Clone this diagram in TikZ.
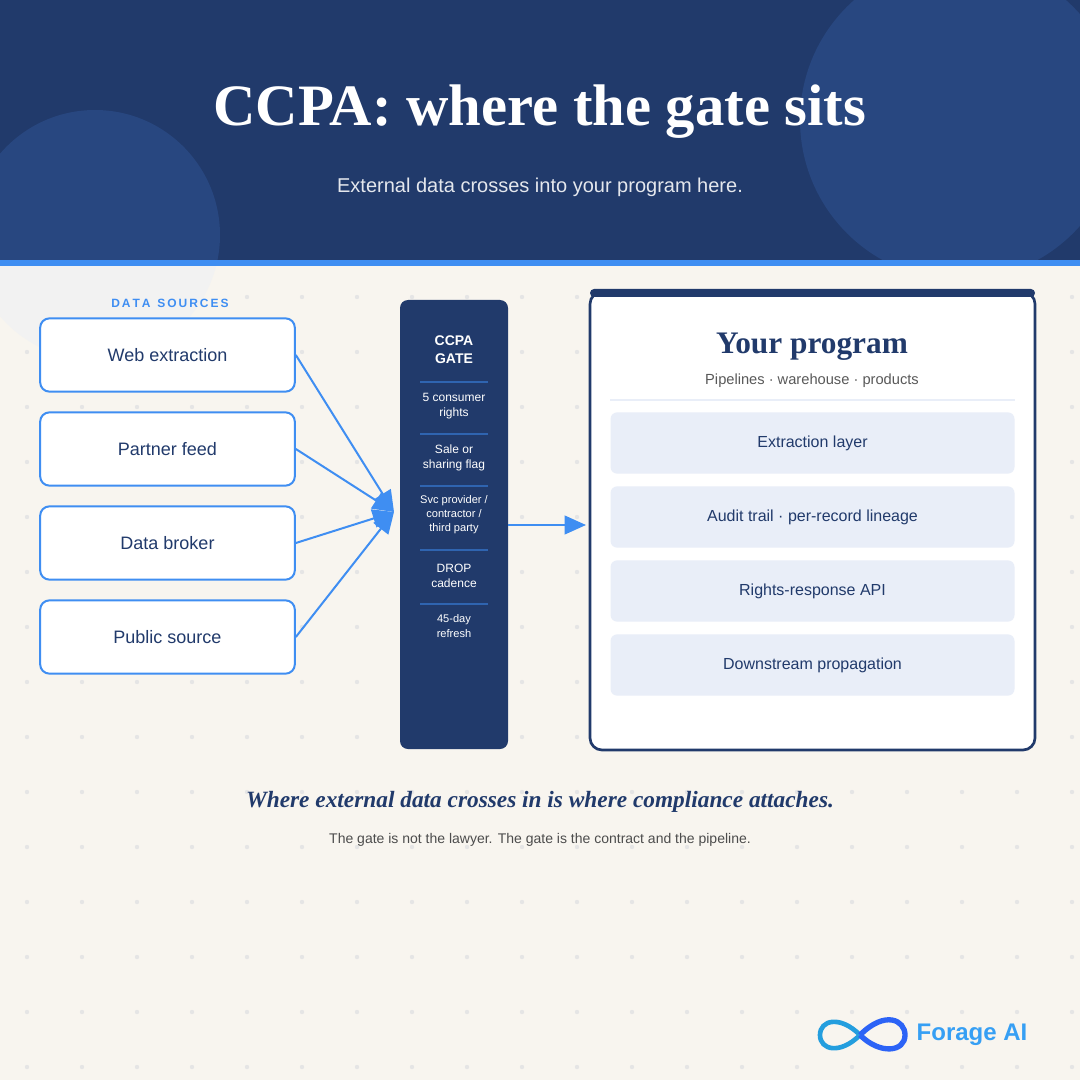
\documentclass[tikz,border=0pt]{standalone}
\usepackage{fontspec}
\setmainfont{Liberation Sans}
\newfontfamily\titlefont{Liberation Serif}
\usetikzlibrary{arrows.meta}
\definecolor{navy}{HTML}{213A6B}
\definecolor{navylight}{HTML}{284780}
\definecolor{skyblue}{HTML}{3F8EF2}
\definecolor{cream}{HTML}{F8F5EF}
\definecolor{layerfill}{HTML}{E9EEF8}
\definecolor{rulegate}{HTML}{2F64B0}
\tikzset{
  px/.style={x=0.75pt,y=-0.75pt},
  source/.style={draw=skyblue,line width=1.5pt,fill=white,rounded corners=7pt,
    minimum width=191pt,minimum height=55pt,font=\fontsize{13.5}{16}\selectfont,text=navy},
  layer/.style={fill=layerfill,rounded corners=5pt,minimum width=303pt,minimum height=46pt,
    font=\fontsize{12}{14}\selectfont,text=navy},
  gatetext/.style={text=white,align=center,font=\fontsize{9}{11}\selectfont},
  feed/.style={draw=skyblue,line width=1.5pt,-{Triangle[length=16pt,width=14pt]}}
}
\begin{document}
\begin{tikzpicture}[px]
\useasboundingbox (0,0) rectangle (1080,1080);
% background
\fill[cream] (0,0) rectangle (1080,1080);
\foreach \i in {0,...,19}
  \foreach \j in {5,...,19}
    \fill[black!10] (27+55*\i,22+55*\j) circle (2.2);
\begin{scope}
  \clip (0,260) rectangle (1080,1080);
  \fill[black!5] (95,235) circle (125);
\end{scope}
\fill[navy] (0,0) rectangle (1080,260);
\begin{scope}
  \clip (0,0) rectangle (1080,260);
  \fill[navylight] (960,120) circle (160);
  \fill[navylight] (95,235) circle (125);
\end{scope}
\fill[skyblue] (0,260) rectangle (1080,266);
% header
\node[text=white,font=\titlefont\bfseries\fontsize{44}{50}\selectfont] (title) at (540,112) {CCPA: where the gate sits};
\node[text=white!88!navy,font=\fontsize{15}{18}\selectfont] (subtitle) at (540,187) {External data crosses into your program here.};
% sources
\node[text=skyblue,font=\bfseries\fontsize{9}{11}\selectfont] (srclabel) at (170,303) {D\,A\,T\,A\ \ S\,O\,U\,R\,C\,E\,S};
\node[source] (web) at (167.5,355) {Web extraction};
\node[source] (partner) at (167.5,449) {Partner feed};
\node[source] (broker) at (167.5,543) {Data broker};
\node[source] (public) at (167.5,637) {Public source};
% gate
\fill[navy,rounded corners=6pt] (400,300) rectangle (508,749);
\coordinate (gatein) at (394,512);
\node[gatetext,font=\bfseries\fontsize{10.5}{13.5}\selectfont] (gatetitle) at (454,350) {CCPA\\GATE};
\foreach \y in {382,434,486,550,604}
  \draw[rulegate,line width=1.2pt] (420,\y) -- (488,\y);
\node[gatetext] (rights) at (454,406) {5 consumer\\rights};
\node[gatetext] (flag) at (454,458) {Sale or\\sharing flag};
\node[gatetext,font=\fontsize{8.3}{10.5}\selectfont] (party) at (454,515) {Svc provider /\\contractor /\\third party};
\node[gatetext] (drop) at (454,576) {DROP\\cadence};
\node[gatetext,font=\fontsize{8.3}{11}\selectfont] (refresh) at (454,626) {45-day\\refresh};
\draw[feed] (web.east) -- (gatein);
\draw[feed] (partner.east) -- (gatein);
\draw[feed] (broker.east) -- (gatein);
\draw[feed] (public.east) -- (gatein);
\coordinate (gateout) at (508,525);
\coordinate (progin) at (586,525);
\draw[feed] (gateout) -- (progin);
% program
\fill[white] (590,290) [rounded corners=9pt] rectangle (1035,750);
\draw[navy,line width=2pt,rounded corners=9pt] (590,292) rectangle (1035,750);
\fill[navy,rounded corners=3pt] (590,289) rectangle (1035,297);
\node[text=navy,font=\titlefont\bfseries\fontsize{23.5}{28}\selectfont] (progtitle) at (812,347) {Your program};
\node[text=black!65,font=\fontsize{11}{13}\selectfont] (progsub) at (812,381) {Pipelines · warehouse · products};
\draw[layerfill,line width=1.2pt] (610,400) -- (1015,400);
\node[layer] (extract) at (812.5,443) {Extraction layer};
\node[layer] (audit) at (812.5,517) {Audit trail · per-record lineage};
\node[layer] (api) at (812.5,591) {Rights-response API};
\node[layer] (prop) at (812.5,665) {Downstream propagation};
% footer
\node[text=navy,font=\titlefont\bfseries\itshape\fontsize{17.5}{20}\selectfont] (claim) at (540,802) {Where external data crosses in is where compliance attaches.};
\node[text=black!70,font=\fontsize{10.5}{13}\selectfont] (note) at (540,840) {The gate is not the lawyer. The gate is the contract and the pipeline.};
% logo
\draw[line width=3.5pt,cyan!60!skyblue] (860,1035) .. controls (840,1015) and (820,1020) .. (820,1035)
  .. controls (820,1050) and (840,1055) .. (860,1035);
\draw[line width=4pt,skyblue!70!blue] (860,1035) .. controls (885,1010) and (905,1020) .. (905,1035)
  .. controls (905,1052) and (880,1055) .. (860,1035);
\node[text=skyblue!85!cyan,font=\bfseries\fontsize{18}{20}\selectfont,anchor=west] (brand) at (912,1035) {Forage AI};
\end{tikzpicture}
\end{document}
